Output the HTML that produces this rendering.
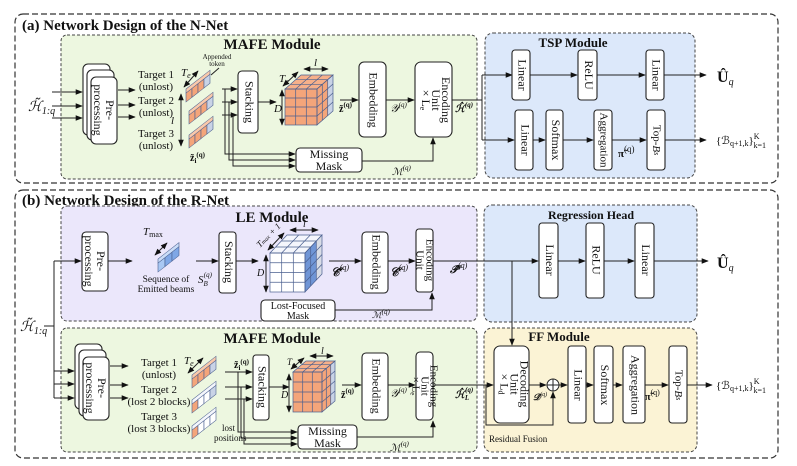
<!DOCTYPE html>
<html><head><meta charset="utf-8"><style>
html,body{margin:0;padding:0;background:#fff}
svg{display:block}
text{font-family:"Liberation Serif",serif;fill:#111}
.b{font-weight:bold}
.box{fill:#fff;stroke:#222;stroke-width:1.1}
.ln{stroke:#222;stroke-width:1;fill:none}
.gl{stroke:#4a5f8f;stroke-width:0.7;fill:none}
</style></head><body>
<svg width="797" height="466" viewBox="0 0 797 466" xmlns="http://www.w3.org/2000/svg">
<defs>
<marker id="a" viewBox="0 0 10 10" refX="9" refY="5" markerWidth="7" markerHeight="7" orient="auto-start-reverse"><path d="M0,1 L10,5 L0,9 z" fill="#111"/></marker>
</defs>

<rect x="15" y="14" width="763" height="169" rx="8" fill="none" stroke="#333" stroke-width="1.2" stroke-dasharray="6,3"/>
<rect x="15" y="190" width="763" height="268" rx="8" fill="none" stroke="#333" stroke-width="1.2" stroke-dasharray="6,3"/>
<text x="22" y="30" class="b" font-size="15">(a) Network Design of the N-Net</text>
<text x="22" y="205" class="b" font-size="15">(b) Network Design of the R-Net</text>

<rect x="61" y="35" width="416" height="144" rx="6" fill="#edf7e0" stroke="#444" stroke-dasharray="3,2"/>
<rect x="485" y="33" width="210" height="145" rx="8" fill="#dce8fa" stroke="#444" stroke-dasharray="3,2"/>
<rect x="61" y="206" width="416" height="115" rx="6" fill="#ebe7fb" stroke="#444" stroke-dasharray="3,2"/>
<rect x="484" y="205" width="213" height="117" rx="8" fill="#dce8fa" stroke="#444" stroke-dasharray="3,2"/>
<rect x="61" y="328" width="416" height="124" rx="6" fill="#edf7e0" stroke="#444" stroke-dasharray="3,2"/>
<rect x="484" y="328" width="213" height="124" rx="8" fill="#fbf3d5" stroke="#444" stroke-dasharray="3,2"/>

<text x="272" y="49" class="b" font-size="15" text-anchor="middle">MAFE Module</text>
<text x="573" y="47" class="b" font-size="13" text-anchor="middle">TSP Module</text>
<text x="272" y="222" class="b" font-size="15" text-anchor="middle">LE Module</text>
<text x="591" y="219" class="b" font-size="12" text-anchor="middle">Regression Head</text>
<text x="272" y="343" class="b" font-size="15" text-anchor="middle">MAFE Module</text>
<text x="559" y="341" class="b" font-size="13" text-anchor="middle">FF Module</text>

<!-- ===== (a) ===== -->
<text x="28" y="111" font-size="14" font-style="italic">ℋ̃<tspan font-size="10" dy="3">1:q</tspan></text>
<line x1="52" y1="92" x2="82" y2="92" class="ln" marker-end="url(#a)"/>
<line x1="52" y1="106" x2="82" y2="106" class="ln" marker-end="url(#a)"/>
<line x1="52" y1="118" x2="82" y2="118" class="ln" marker-end="url(#a)"/>
<rect x="83" y="64" width="27" height="71" rx="5" class="box"/>
<rect x="87" y="70" width="27" height="70" rx="5" class="box"/>
<rect x="91" y="77" width="26" height="67" rx="5" class="box"/>
<text transform="translate(104,110) rotate(90)" font-size="12" text-anchor="middle"><tspan x="0" dy="-2">Pre-</tspan><tspan x="0" dy="12">processing</tspan></text>
<line x1="118" y1="90" x2="135" y2="90" class="ln" marker-end="url(#a)"/>
<line x1="118" y1="105" x2="135" y2="105" class="ln" marker-end="url(#a)"/>
<line x1="118" y1="117" x2="135" y2="117" class="ln" marker-end="url(#a)"/>
<g font-size="11" text-anchor="middle">
<text x="156" y="78">Target 1</text><text x="156" y="90">(unlost)</text>
<text x="156" y="104">Target 2</text><text x="156" y="116">(unlost)</text>
<text x="156" y="137">Target 3</text><text x="156" y="149">(unlost)</text>
</g>
<text x="217" y="59" font-size="7" text-anchor="middle">Appended</text>
<text x="217" y="66" font-size="7" text-anchor="middle">token</text>
<line x1="219" y1="68" x2="211" y2="75" class="ln" stroke-width="0.7"/>
<g transform="translate(186,93) skewY(-38)" stroke="#4a5f8f" stroke-width="0.6">
<rect x="0" y="0" width="6" height="9" fill="#f4a57a"/><rect x="6" y="0" width="6" height="9" fill="#f4a57a"/><rect x="12" y="0" width="6" height="9" fill="#f4a57a"/><rect x="18" y="0" width="6" height="9" fill="#c9d3e6"/>
<rect x="0" y="-4" width="24" height="4" fill="#f9c9ab"/></g>
<g transform="translate(189,115) skewY(-38)" stroke="#4a5f8f" stroke-width="0.6">
<rect x="0" y="0" width="6" height="9" fill="#f4a57a"/><rect x="6" y="0" width="6" height="9" fill="#f4a57a"/><rect x="12" y="0" width="6" height="9" fill="#f4a57a"/><rect x="18" y="0" width="6" height="9" fill="#c9d3e6"/>
<rect x="0" y="-4" width="24" height="4" fill="#f9c9ab"/></g>
<g transform="translate(189,139) skewY(-38)" stroke="#4a5f8f" stroke-width="0.6">
<rect x="0" y="0" width="6" height="9" fill="#f4a57a"/><rect x="6" y="0" width="6" height="9" fill="#f4a57a"/><rect x="12" y="0" width="6" height="9" fill="#f4a57a"/><rect x="18" y="0" width="6" height="9" fill="#c9d3e6"/>
<rect x="0" y="-4" width="24" height="4" fill="#f9c9ab"/></g>
<line x1="184" y1="87" x2="198" y2="71" class="ln" marker-start="url(#a)" marker-end="url(#a)"/>
<text x="181" y="76" font-size="11" font-style="italic">T<tspan font-size="8" dy="2">e</tspan></text>
<line x1="181" y1="94" x2="181" y2="146" class="ln" marker-start="url(#a)" marker-end="url(#a)"/>
<text x="171" y="124" font-size="11" font-style="italic">l</text>
<text x="190" y="161" font-size="10" font-weight="bold">z̃<tspan font-size="7" dy="2">i</tspan><tspan font-size="7" dy="-6">(q)</tspan></text>
<line x1="222" y1="89" x2="237" y2="89" class="ln" marker-end="url(#a)"/>
<line x1="222" y1="102" x2="237" y2="102" class="ln" marker-end="url(#a)"/>
<line x1="222" y1="115" x2="237" y2="115" class="ln" marker-end="url(#a)"/>
<polyline points="225,89 225,154 295,154" class="ln" marker-end="url(#a)"/>
<polyline points="229,102 229,160 295,160" class="ln" marker-end="url(#a)"/>
<polyline points="233,115 233,166 295,166" class="ln" marker-end="url(#a)"/>
<rect x="238" y="71" width="20" height="62" rx="4" class="box"/>
<text transform="translate(248,102) rotate(90)" font-size="12" text-anchor="middle" dominant-baseline="middle">Stacking</text>
<line x1="258" y1="102" x2="276" y2="102" class="ln" marker-end="url(#a)"/>
<g>
<rect x="285" y="89" width="32" height="36" fill="#f4a57a"/>
<polygon points="285,89 301,75 333,75 317,89" fill="#f6b08a"/>
<polygon points="317,89 333,75 333,111 317,125" fill="#f4a57a"/>
<polygon points="327.7,79.7 333,75 333,111 327.7,115.7" fill="#c9d3e6"/>
<g class="gl">
<rect x="285" y="89" width="32" height="36"/>
<line x1="295.7" y1="89" x2="295.7" y2="125"/><line x1="306.3" y1="89" x2="306.3" y2="125"/>
<line x1="285" y1="98" x2="317" y2="98"/><line x1="285" y1="107" x2="317" y2="107"/><line x1="285" y1="116" x2="317" y2="116"/>
<polygon points="285,89 301,75 333,75 317,89"/>
<line x1="295.7" y1="89" x2="311.7" y2="75"/><line x1="306.3" y1="89" x2="322.3" y2="75"/>
<line x1="290.3" y1="84.3" x2="322.3" y2="84.3"/><line x1="295.7" y1="79.7" x2="327.7" y2="79.7"/>
<polygon points="317,89 333,75 333,111 317,125"/>
<line x1="322.3" y1="84.3" x2="322.3" y2="120.3"/><line x1="327.7" y1="79.7" x2="327.7" y2="115.7"/>
<line x1="317" y1="98" x2="333" y2="84"/><line x1="317" y1="107" x2="333" y2="93"/><line x1="317" y1="116" x2="333" y2="102"/>
</g></g>
<line x1="282" y1="90" x2="282" y2="125" class="ln" marker-start="url(#a)" marker-end="url(#a)"/>
<text x="274" y="112" font-size="11" font-style="italic">D</text>
<line x1="283" y1="86" x2="298" y2="72" class="ln" marker-start="url(#a)" marker-end="url(#a)"/>
<text x="279" y="82" font-size="11" font-style="italic">T<tspan font-size="8" dy="2">e</tspan></text>
<line x1="304" y1="69" x2="328" y2="69" class="ln" marker-start="url(#a)" marker-end="url(#a)"/>
<text x="314" y="66" font-size="11" font-style="italic">l</text>
<text x="339" y="112" font-size="10" font-weight="bold">z̃<tspan font-size="7" dy="-5">(q)</tspan></text>
<line x1="340" y1="100" x2="358" y2="100" class="ln" marker-end="url(#a)"/>
<rect x="359" y="62" width="27" height="75" rx="5" class="box"/>
<text transform="translate(372,100) rotate(90)" font-size="12" text-anchor="middle" dominant-baseline="middle">Embedding</text>
<line x1="386" y1="100" x2="414" y2="100" class="ln" marker-end="url(#a)"/>
<text x="390" y="112" font-size="11" font-style="italic">𝒴<tspan font-size="7" dy="-5">(q)</tspan></text>
<rect x="415" y="62" width="37" height="75" rx="6" class="box"/>
<text transform="translate(433,100) rotate(90)" font-size="12" text-anchor="middle"><tspan x="0" dy="-9">Encoding</tspan><tspan x="0" dy="10">Unit</tspan><tspan x="0" dy="10">× L<tspan font-size="8" dy="2">e</tspan></tspan></text>
<rect x="296" y="148" width="66" height="24" rx="4" class="box"/>
<text x="329" y="158" font-size="12" text-anchor="middle">Missing</text>
<text x="329" y="170" font-size="12" text-anchor="middle">Mask</text>
<polyline points="362,161 433,161 433,138" class="ln" marker-end="url(#a)"/>
<text x="392" y="175" font-size="10" font-style="italic">ℳ<tspan font-size="7" dy="-5">(q)</tspan></text>
<text x="455" y="112" font-size="10" font-style="italic" font-weight="bold">ℋ̂<tspan font-size="7" dy="-5">(q)</tspan></text>
<polyline points="452,100 482,100" class="ln"/>
<line x1="482" y1="75" x2="482" y2="140" class="ln"/>
<line x1="482" y1="75" x2="512" y2="75" class="ln" marker-end="url(#a)"/>
<line x1="482" y1="140" x2="514" y2="140" class="ln" marker-end="url(#a)"/>
<rect x="512" y="50" width="18" height="50" rx="3" class="box"/>
<text transform="translate(521,75) rotate(90)" font-size="12" text-anchor="middle" dominant-baseline="middle">Linear</text>
<line x1="530" y1="75" x2="577" y2="75" class="ln" marker-end="url(#a)"/>
<rect x="578" y="50" width="19" height="50" rx="3" class="box"/>
<text transform="translate(587.5,75) rotate(90)" font-size="12" text-anchor="middle" dominant-baseline="middle">ReLU</text>
<line x1="597" y1="75" x2="645" y2="75" class="ln" marker-end="url(#a)"/>
<rect x="646" y="50" width="18" height="50" rx="3" class="box"/>
<text transform="translate(655,75) rotate(90)" font-size="12" text-anchor="middle" dominant-baseline="middle">Linear</text>
<line x1="664" y1="75" x2="706" y2="75" class="ln" marker-end="url(#a)"/>
<text x="717" y="82" font-size="16" font-weight="bold">Û<tspan font-size="10" font-style="italic" font-weight="normal" dy="3">q</tspan></text>
<rect x="515" y="110" width="18" height="60" rx="3" class="box"/>
<text transform="translate(524,140) rotate(90)" font-size="12" text-anchor="middle" dominant-baseline="middle">Linear</text>
<line x1="533" y1="140" x2="545" y2="140" class="ln" marker-end="url(#a)"/>
<rect x="546" y="110" width="17" height="60" rx="3" class="box"/>
<text transform="translate(554.5,140) rotate(90)" font-size="12" text-anchor="middle" dominant-baseline="middle">Softmax</text>
<line x1="563" y1="140" x2="593" y2="140" class="ln" marker-end="url(#a)"/>
<rect x="594" y="110" width="18" height="60" rx="3" class="box"/>
<text transform="translate(603,140) rotate(90)" font-size="11" text-anchor="middle" dominant-baseline="middle">Aggregation</text>
<line x1="612" y1="140" x2="646" y2="140" class="ln" marker-end="url(#a)"/>
<text x="618" y="157" font-size="11" font-weight="bold">π̃<tspan font-size="9" font-weight="normal" dy="-5">(q)</tspan></text>
<rect x="647" y="110" width="18" height="60" rx="3" class="box"/>
<text transform="translate(656,140) rotate(90)" font-size="11" text-anchor="middle" dominant-baseline="middle">Top-<tspan font-style="italic">B<tspan font-size="8">s</tspan></tspan></text>
<line x1="665" y1="140" x2="706" y2="140" class="ln" marker-end="url(#a)"/>
<text x="716" y="144" font-size="11">{ℬ<tspan font-size="8" dy="2">q+1,k</tspan><tspan dy="-2">}</tspan><tspan font-size="8" dy="-5">K</tspan><tspan font-size="8" dx="-6" dy="9">k=1</tspan></text>

<!-- ===== (b) LE ===== -->
<text x="20" y="331" font-size="14" font-style="italic">ℋ̃<tspan font-size="10" dy="3">1:q</tspan></text>
<line x1="44" y1="326" x2="54" y2="326" class="ln"/>
<line x1="54" y1="261" x2="54" y2="398" class="ln"/>
<line x1="54" y1="261" x2="81" y2="261" class="ln" marker-end="url(#a)"/>
<rect x="82" y="232" width="26" height="59" rx="4" class="box"/>
<text transform="translate(95,261) rotate(90)" font-size="12" text-anchor="middle"><tspan x="0" dy="-2">Pre-</tspan><tspan x="0" dy="12">processing</tspan></text>
<line x1="108" y1="261" x2="132" y2="261" class="ln" marker-end="url(#a)"/>
<g transform="translate(158,263) skewY(-38)" stroke="#4a5f8f" stroke-width="0.6">
<rect x="0" y="0" width="7" height="9" fill="#a9c8f3"/><rect x="7" y="0" width="7" height="9" fill="#7fa7e6"/><rect x="14" y="0" width="7" height="9" fill="#7fa7e6"/>
<rect x="0" y="-4" width="21" height="4" fill="#c9dcf7"/></g>
<line x1="155" y1="255" x2="167" y2="243" class="ln" marker-start="url(#a)" marker-end="url(#a)"/>
<text x="143" y="235" font-size="11" font-style="italic">T<tspan font-size="8" font-style="normal" dy="2">max</tspan></text>
<text x="166" y="282" font-size="9.5" text-anchor="middle">Sequence of</text>
<text x="166" y="292" font-size="9.5" text-anchor="middle">Emitted beams</text>
<line x1="196" y1="261" x2="218" y2="261" class="ln" marker-end="url(#a)"/>
<text x="198" y="283" font-size="11" font-style="italic">S<tspan font-size="7" dy="3">B</tspan><tspan font-size="7" dx="-4" dy="-9">(q)</tspan></text>
<rect x="219" y="232" width="17" height="61" rx="3" class="box"/>
<text transform="translate(227.5,262) rotate(90)" font-size="12" text-anchor="middle" dominant-baseline="middle">Stacking</text>
<line x1="236" y1="261" x2="258" y2="261" class="ln" marker-end="url(#a)"/>
<g>
<rect x="270" y="253" width="35" height="39" fill="#fff"/>
<polygon points="270,253 287,235 322,235 305,253" fill="#f4f6fc"/>
<polygon points="305,253 322,235 322,274 305,292" fill="#6f95d6"/>
<polygon points="316.3,241 322,235 322,274 316.3,280" fill="#d8dce6"/>
<g class="gl">
<rect x="270" y="253" width="35" height="39"/>
<line x1="281.7" y1="253" x2="281.7" y2="292"/><line x1="293.3" y1="253" x2="293.3" y2="292"/>
<line x1="270" y1="262.75" x2="305" y2="262.75"/><line x1="270" y1="272.5" x2="305" y2="272.5"/><line x1="270" y1="282.25" x2="305" y2="282.25"/>
<polygon points="270,253 287,235 322,235 305,253"/>
<line x1="281.7" y1="253" x2="298.7" y2="235"/><line x1="293.3" y1="253" x2="310.3" y2="235"/>
<line x1="275.7" y1="247" x2="310.7" y2="247"/><line x1="281.3" y1="241" x2="316.3" y2="241"/>
<polygon points="305,253 322,235 322,274 305,292"/>
<line x1="310.7" y1="247" x2="310.7" y2="286"/><line x1="316.3" y1="241" x2="316.3" y2="280"/>
<line x1="305" y1="262.75" x2="322" y2="244.75"/><line x1="305" y1="272.5" x2="322" y2="254.5"/><line x1="305" y1="282.25" x2="322" y2="264.25"/>
</g></g>
<line x1="266" y1="255" x2="266" y2="292" class="ln" marker-start="url(#a)" marker-end="url(#a)"/>
<text x="257" y="276" font-size="10" font-style="italic">D</text>
<line x1="268" y1="250" x2="284" y2="233" class="ln" marker-start="url(#a)" marker-end="url(#a)"/>
<text transform="translate(260,248) rotate(-45)" font-size="9" font-style="italic">T<tspan font-size="6">max</tspan> + 1</text>
<line x1="290" y1="230" x2="318" y2="230" class="ln" marker-start="url(#a)" marker-end="url(#a)"/>
<text x="303" y="227" font-size="10" font-style="italic">l</text>
<rect x="261" y="300" width="74" height="21" rx="4" class="box"/>
<text x="298" y="309" font-size="10" text-anchor="middle">Lost-Focused</text>
<text x="298" y="319" font-size="10" text-anchor="middle">Mask</text>
<line x1="329" y1="261" x2="361" y2="261" class="ln" marker-end="url(#a)"/>
<text x="331" y="276" font-size="12" font-style="italic" font-weight="bold">𝒞̃<tspan font-size="8" font-weight="normal" dy="-6">(q)</tspan></text>
<rect x="362" y="232" width="26" height="61" rx="4" class="box"/>
<text transform="translate(375,262) rotate(90)" font-size="12" text-anchor="middle" dominant-baseline="middle">Embedding</text>
<line x1="388" y1="261" x2="415" y2="261" class="ln" marker-end="url(#a)"/>
<text x="390" y="276" font-size="12" font-style="italic" font-weight="bold">𝒞̂<tspan font-size="8" font-weight="normal" dy="-6">(q)</tspan></text>
<rect x="416" y="229" width="17" height="63" rx="3" class="box"/>
<text transform="translate(424.5,260) rotate(90)" font-size="11" text-anchor="middle"><tspan x="0" dy="-2">Encoding</tspan><tspan x="0" dy="10">Unit</tspan></text>
<polyline points="335,310 432,310 432,293" class="ln" marker-end="url(#a)"/>
<text x="372" y="318" font-size="9" font-style="italic">ℳ̃<tspan font-size="7" dy="-4">(q)</tspan></text>
<text x="450" y="273" font-size="11" font-style="italic" font-weight="bold">𝒫̂<tspan font-size="8" font-weight="normal" dy="-5">(q)</tspan></text>
<line x1="433" y1="261" x2="538" y2="261" class="ln" marker-end="url(#a)"/>
<line x1="512" y1="261" x2="512" y2="345" class="ln" marker-end="url(#a)"/>
<rect x="539" y="223" width="19" height="75" rx="3" class="box"/>
<text transform="translate(548.5,260) rotate(90)" font-size="12" text-anchor="middle" dominant-baseline="middle">Linear</text>
<line x1="558" y1="261" x2="585" y2="261" class="ln" marker-end="url(#a)"/>
<rect x="586" y="223" width="18" height="75" rx="3" class="box"/>
<text transform="translate(595,260) rotate(90)" font-size="12" text-anchor="middle" dominant-baseline="middle">ReLU</text>
<line x1="604" y1="261" x2="634" y2="261" class="ln" marker-end="url(#a)"/>
<rect x="635" y="223" width="19" height="75" rx="3" class="box"/>
<text transform="translate(644.5,260) rotate(90)" font-size="12" text-anchor="middle" dominant-baseline="middle">Linear</text>
<line x1="654" y1="261" x2="708" y2="261" class="ln" marker-end="url(#a)"/>
<text x="717" y="268" font-size="16" font-weight="bold">Û<tspan font-size="10" font-style="italic" font-weight="normal" dy="3">q</tspan></text>

<!-- ===== (b) MAFE ===== -->
<line x1="54" y1="371" x2="74" y2="371" class="ln" marker-end="url(#a)"/>
<line x1="54" y1="384" x2="74" y2="384" class="ln" marker-end="url(#a)"/>
<line x1="54" y1="398" x2="74" y2="398" class="ln" marker-end="url(#a)"/>
<rect x="75" y="344" width="27" height="65" rx="5" class="box"/>
<rect x="79" y="350" width="27" height="66" rx="5" class="box"/>
<rect x="83" y="357" width="26" height="63" rx="5" class="box"/>
<text transform="translate(96,388) rotate(90)" font-size="12" text-anchor="middle"><tspan x="0" dy="-2">Pre-</tspan><tspan x="0" dy="12">processing</tspan></text>
<line x1="110" y1="366" x2="128" y2="366" class="ln" marker-end="url(#a)"/>
<line x1="110" y1="385" x2="128" y2="385" class="ln" marker-end="url(#a)"/>
<line x1="110" y1="398" x2="128" y2="398" class="ln" marker-end="url(#a)"/>
<g font-size="11" text-anchor="middle">
<text x="159" y="366">Target 1</text><text x="159" y="378">(unlost)</text>
<text x="159" y="393">Target 2</text><text x="159" y="405">(lost 2 blocks)</text>
<text x="159" y="420">Target 3</text><text x="159" y="432">(lost 3 blocks)</text>
</g>
<g transform="translate(192,379) skewY(-38)" stroke="#4a5f8f" stroke-width="0.6">
<rect x="0" y="0" width="6" height="9" fill="#f4a57a"/><rect x="6" y="0" width="6" height="9" fill="#f4a57a"/><rect x="12" y="0" width="6" height="9" fill="#f4a57a"/><rect x="18" y="0" width="6" height="9" fill="#c9d3e6"/>
<rect x="0" y="-4" width="24" height="4" fill="#f9c9ab"/></g>
<g transform="translate(192,404) skewY(-38)" stroke="#4a5f8f" stroke-width="0.6">
<rect x="0" y="0" width="6" height="9" fill="#f4a57a"/><rect x="6" y="0" width="6" height="9" fill="#fff"/><rect x="12" y="0" width="6" height="9" fill="#fff"/><rect x="18" y="0" width="6" height="9" fill="#c9d3e6"/>
<rect x="0" y="-4" width="24" height="4" fill="#f4f6fc"/></g>
<g transform="translate(192,430) skewY(-38)" stroke="#4a5f8f" stroke-width="0.6">
<rect x="0" y="0" width="6" height="9" fill="#f4a57a"/><rect x="6" y="0" width="6" height="9" fill="#fff"/><rect x="12" y="0" width="6" height="9" fill="#fff"/><rect x="18" y="0" width="6" height="9" fill="#fff"/>
<rect x="0" y="-4" width="24" height="4" fill="#f4f6fc"/></g>
<line x1="188" y1="373" x2="203" y2="358" class="ln" marker-start="url(#a)" marker-end="url(#a)"/>
<text x="184" y="364" font-size="11" font-style="italic">T<tspan font-size="8" dy="2">e</tspan></text>
<text x="222" y="431" font-size="9">lost</text>
<text x="214" y="441" font-size="9">positions</text>
<text x="234" y="368" font-size="10" font-weight="bold">z̃<tspan font-size="7" dy="2">i</tspan><tspan font-size="7" dy="-6">(q)</tspan></text>
<line x1="225" y1="372" x2="252" y2="372" class="ln" marker-end="url(#a)"/>
<line x1="225" y1="387" x2="252" y2="387" class="ln" marker-end="url(#a)"/>
<line x1="225" y1="399" x2="252" y2="399" class="ln" marker-end="url(#a)"/>
<polyline points="238,372 238,432 297,432" class="ln" marker-end="url(#a)"/>
<polyline points="241,387 241,438 297,438" class="ln" marker-end="url(#a)"/>
<polyline points="244,399 244,444 297,444" class="ln" marker-end="url(#a)"/>
<rect x="253" y="355" width="16" height="65" rx="3" class="box"/>
<text transform="translate(261,387) rotate(90)" font-size="12" text-anchor="middle" dominant-baseline="middle">Stacking</text>
<line x1="269" y1="387" x2="289" y2="387" class="ln" marker-end="url(#a)"/>
<g>
<rect x="293" y="372" width="29" height="40" fill="#f4a57a"/>
<polygon points="293,372 306,361 335,361 322,372" fill="#f6b08a"/>
<polygon points="322,372 335,361 335,401 322,412" fill="#f4a57a"/>
<polygon points="330.7,364.7 335,361 335,401 330.7,404.7" fill="#c9d3e6"/>
<g class="gl">
<rect x="293" y="372" width="29" height="40"/>
<line x1="302.7" y1="372" x2="302.7" y2="412"/><line x1="312.3" y1="372" x2="312.3" y2="412"/>
<line x1="293" y1="382" x2="322" y2="382"/><line x1="293" y1="392" x2="322" y2="392"/><line x1="293" y1="402" x2="322" y2="402"/>
<polygon points="293,372 306,361 335,361 322,372"/>
<line x1="302.7" y1="372" x2="315.7" y2="361"/><line x1="312.3" y1="372" x2="325.3" y2="361"/>
<line x1="297.3" y1="368.3" x2="326.3" y2="368.3"/><line x1="301.7" y1="364.7" x2="330.7" y2="364.7"/>
<polygon points="322,372 335,361 335,401 322,412"/>
<line x1="326.3" y1="368.3" x2="326.3" y2="408.3"/><line x1="330.7" y1="364.7" x2="330.7" y2="404.7"/>
<line x1="322" y1="382" x2="335" y2="371"/><line x1="322" y1="392" x2="335" y2="381"/><line x1="322" y1="402" x2="335" y2="391"/>
</g></g>
<line x1="289" y1="374" x2="289" y2="412" class="ln" marker-start="url(#a)" marker-end="url(#a)"/>
<text x="281" y="398" font-size="10" font-style="italic">D</text>
<line x1="291" y1="369" x2="304" y2="358" class="ln" marker-start="url(#a)" marker-end="url(#a)"/>
<text x="287" y="365" font-size="9" font-style="italic">T<tspan font-size="7" dy="2">e</tspan></text>
<line x1="310" y1="356" x2="333" y2="356" class="ln" marker-start="url(#a)" marker-end="url(#a)"/>
<text x="321" y="354" font-size="10" font-style="italic">l</text>
<text x="341" y="398" font-size="10" font-weight="bold">z̃<tspan font-size="7" dy="-5">(q)</tspan></text>
<line x1="342" y1="385" x2="361" y2="385" class="ln" marker-end="url(#a)"/>
<rect x="362" y="353" width="26" height="67" rx="4" class="box"/>
<text transform="translate(375,386) rotate(90)" font-size="12" text-anchor="middle" dominant-baseline="middle">Embedding</text>
<line x1="388" y1="385" x2="415" y2="385" class="ln" marker-end="url(#a)"/>
<text x="390" y="397" font-size="11" font-style="italic">𝒴<tspan font-size="7" dy="-5">(q)</tspan></text>
<rect x="416" y="352" width="17" height="68" rx="4" class="box"/>
<text transform="translate(424.5,386) rotate(90)" font-size="11" text-anchor="middle"><tspan x="0" dy="-6">Encoding</tspan><tspan x="0" dy="9">Unit</tspan><tspan x="0" dy="9">× L<tspan font-size="7" dy="2">e</tspan></tspan></text>
<rect x="298" y="425" width="59" height="24" rx="4" class="box"/>
<text x="327.5" y="435" font-size="12" text-anchor="middle">Missing</text>
<text x="327.5" y="447" font-size="12" text-anchor="middle">Mask</text>
<polyline points="357,437 433,437 433,421" class="ln" marker-end="url(#a)"/>
<text x="390" y="451" font-size="10" font-style="italic">ℳ<tspan font-size="7" dy="-5">(q)</tspan></text>
<text x="455" y="398" font-size="10" font-style="italic" font-weight="bold">ℋ̂<tspan font-size="7" dy="2">L</tspan><tspan font-size="7" dx="-4" dy="-8">(q)</tspan></text>
<line x1="433" y1="385" x2="493" y2="385" class="ln" marker-end="url(#a)"/>
<polyline points="486,385 486,425 553,425 553,392" class="ln" marker-end="url(#a)"/>
<text x="489" y="442" font-size="9">Residual Fusion</text>
<rect x="494" y="346" width="35" height="77" rx="6" class="box"/>
<text transform="translate(511.5,384) rotate(90)" font-size="12" text-anchor="middle"><tspan x="0" dy="-9">Decoding</tspan><tspan x="0" dy="10">Unit</tspan><tspan x="0" dy="10">× L<tspan font-size="8" dy="2">d</tspan></tspan></text>
<line x1="529" y1="385" x2="546" y2="385" class="ln" marker-end="url(#a)"/>
<circle cx="553" cy="385" r="6" fill="#fff" stroke="#222"/>
<line x1="547" y1="385" x2="559" y2="385" class="ln"/><line x1="553" y1="379" x2="553" y2="391" class="ln"/>
<text x="533" y="400" font-size="9" font-style="italic" font-weight="bold">𝒟̂<tspan font-size="6" font-weight="normal" dy="-4">(q)</tspan></text>
<line x1="559" y1="385" x2="567" y2="385" class="ln" marker-end="url(#a)"/>
<rect x="568" y="346" width="18" height="77" rx="3" class="box"/>
<text transform="translate(577,385) rotate(90)" font-size="12" text-anchor="middle" dominant-baseline="middle">Linear</text>
<line x1="586" y1="385" x2="593" y2="385" class="ln" marker-end="url(#a)"/>
<rect x="594" y="346" width="19" height="77" rx="3" class="box"/>
<text transform="translate(603.5,385) rotate(90)" font-size="12" text-anchor="middle" dominant-baseline="middle">Softmax</text>
<line x1="613" y1="385" x2="622" y2="385" class="ln" marker-end="url(#a)"/>
<rect x="623" y="346" width="22" height="77" rx="3" class="box"/>
<text transform="translate(634,385) rotate(90)" font-size="12" text-anchor="middle" dominant-baseline="middle">Aggregation</text>
<line x1="645" y1="385" x2="668" y2="385" class="ln" marker-end="url(#a)"/>
<text x="645" y="400" font-size="10" font-weight="bold">π̃<tspan font-size="8" font-weight="normal" dy="-5">(q)</tspan></text>
<rect x="669" y="346" width="18" height="77" rx="3" class="box"/>
<text transform="translate(678,385) rotate(90)" font-size="11" text-anchor="middle" dominant-baseline="middle">Top-<tspan font-style="italic">B<tspan font-size="8">s</tspan></tspan></text>
<line x1="687" y1="385" x2="712" y2="385" class="ln" marker-end="url(#a)"/>
<text x="716" y="389" font-size="11">{ℬ<tspan font-size="8" dy="2">q+1,k</tspan><tspan dy="-2">}</tspan><tspan font-size="8" dy="-5">K</tspan><tspan font-size="8" dx="-6" dy="9">k=1</tspan></text>
</svg>
</body></html>
